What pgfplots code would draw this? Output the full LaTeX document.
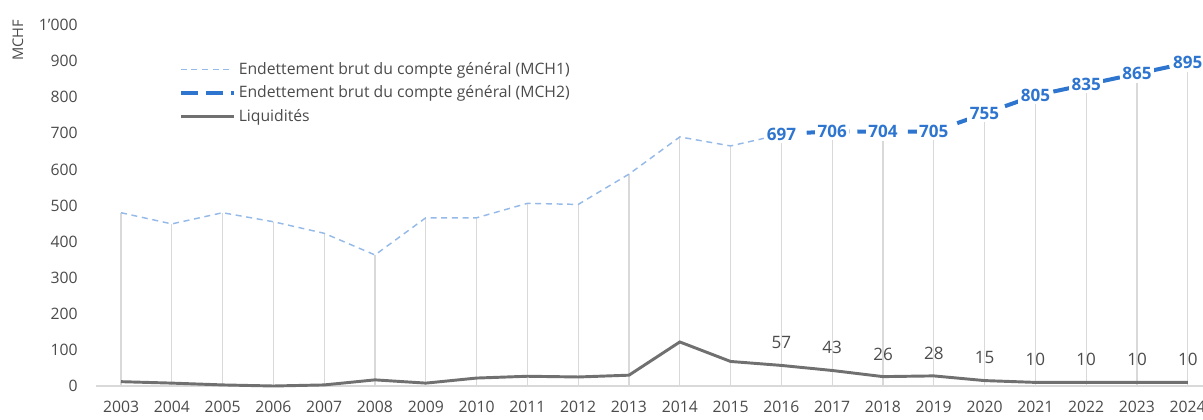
\documentclass[border=0pt]{standalone}
\usepackage{pgfplots}
\pgfplotsset{compat=1.18}
\usepackage{fontspec}
\setmainfont{Open Sans}
\definecolor{mchone}{RGB}{150,186,232}
\definecolor{mchtwo}{RGB}{46,117,208}
\definecolor{liq}{RGB}{112,112,112}
\definecolor{dropc}{RGB}{217,217,217}
\definecolor{txt}{RGB}{75,75,75}
\begin{document}
\begin{tikzpicture}
\path[use as bounding box] (0,0) rectangle (902.25pt,314.25pt);
\begin{axis}[
  at={(71.7pt,24.75pt)}, anchor=south west,
  scale only axis, width=838.2pt, height=270.75pt,
  xmin=2002.5, xmax=2024.5, ymin=0, ymax=1000,
  clip=false,
  axis y line*=left, axis x line*=bottom,
  y axis line style={draw=none},
  x axis line style={draw=dropc, line width=0.9pt, -},
  xtick={2003,...,2024},
  ytick={0,100,...,1000},
  major tick length=0pt,
  xticklabel style={font=\fontsize{11.8}{14}\selectfont, text=txt, yshift=-8pt},
  yticklabel style={font=\fontsize{11.8}{14}\selectfont, text=txt, xshift=-10pt},
  /pgf/number format/assume math mode=true,
  x tick label style={/pgf/number format/set thousands separator={}},
  y tick label style={/pgf/number format/1000 sep={'}},
  legend style={draw=none, fill=none, at={(rel axis cs:0.073,0.908)}, anchor=north west,
    font=\fontsize{11.8}{14}\selectfont, text=txt, row sep=3pt,
    legend cell align=left, inner sep=1pt},
  legend image code/.code={\draw[#1] (0pt,0pt) -- (40pt,0pt);},
]
% drop lines (not in legend)
\addplot[ycomb, draw=dropc, line width=0.9pt, forget plot] coordinates {
(2003,480)(2004,449)(2005,480)(2006,455)(2007,423)(2008,363)(2009,466)(2010,466)
(2011,506)(2012,503)(2013,587)(2014,690)(2015,665)(2016,697)(2017,706)(2018,704)
(2019,705)(2020,755)(2021,805)(2022,835)(2023,865)(2024,895)};
\addplot[mchone, line width=1.1pt, dash pattern=on 4.5pt off 3.5pt] coordinates {
(2003,480)(2004,449)(2005,480)(2006,455)(2007,423)(2008,363)(2009,466)(2010,466)
(2011,506)(2012,503)(2013,587)(2014,690)(2015,665)(2016,697)};
\addlegendentry{Endettement brut du compte général (MCH1)}
\addplot[mchtwo, line width=3pt, dash pattern=on 13pt off 6pt,
  nodes near coords, every node near coord/.append style={anchor=center,
  fill=white, inner sep=2pt, text=mchtwo, font=\fontsize{12.8}{14}\selectfont\bfseries}]
  coordinates {
(2016,697)(2017,706)(2018,704)(2019,705)(2020,755)(2021,805)(2022,835)(2023,865)(2024,895)};
\addlegendentry{Endettement brut du compte général (MCH2)}
\addplot[liq, line width=2.2pt] coordinates {
(2003,12)(2004,8)(2005,3)(2006,0)(2007,3)(2008,17)(2009,8)(2010,22)(2011,27)(2012,25)
(2013,30)(2014,122)(2015,68)(2016,57)(2017,43)(2018,26)(2019,28)(2020,15)(2021,10)
(2022,10)(2023,10)(2024,10)};
\addlegendentry{Liquidités}
\addplot[draw=none, forget plot, nodes near coords,
  every node near coord/.append style={anchor=center, yshift=17pt,
  text=txt, font=\fontsize{12.8}{14}\selectfont}] coordinates {
(2016,57)(2017,43)(2018,26)(2019,28)(2020,15)(2021,10)(2022,10)(2023,10)(2024,10)};
\node[rotate=90, text=txt, font=\fontsize{11}{13}\selectfont, anchor=center]
  at (axis cs:2000.97,958) {MCHF};
\end{axis}
\end{tikzpicture}
\end{document}
